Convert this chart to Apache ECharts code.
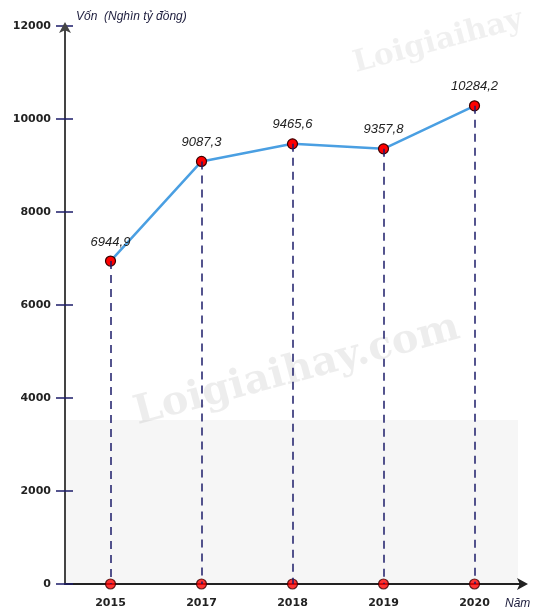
<!DOCTYPE html>
<html>
<head>
<meta charset="utf-8">
<script src="https://cdn.jsdelivr.net/npm/echarts@6/dist/echarts.min.js"></script>
<style>
  html, body { margin: 0; padding: 0; background: #fff; }
  #chart { width: 534px; height: 611px; }
</style>
</head>
<body>
<div id="chart"></div>
<script>
  // du lieu doc tu hinh
  var years = ['2015', '2017', '2018', '2019', '2020'];
  var capital = [6944.9, 9087.3, 9465.6, 9357.8, 10284.2];
  var baseline = [0, 0, 0, 0, 0];

  var navy = '#1c1c6a';
  var myChart = echarts.init(document.getElementById('chart'));

  var drops = years.map(function (y, i) {
    return [{ xAxis: i, yAxis: capital[i] }, { xAxis: i, yAxis: 0 }];
  });

  var opt = {
    animation: false,
    grid: { left: 65, right: 14, top: 26, bottom: 27 },
    graphic: [
      {
        type: 'rect', z: 0,
        shape: { x: 66, y: 420, width: 452, height: 163 },
        style: { fill: '#f6f6f6' }
      },
      {
        type: 'text', z: 0, x: 130, y: 395, rotation: 15 * Math.PI / 180,
        style: { text: 'Loigiaihay.com', fill: 'rgba(0,0,0,0.07)', font: 'bold 40px "DejaVu Serif"' }
      },
      {
        type: 'text', z: 0, x: 350, y: 50, rotation: 15 * Math.PI / 180,
        style: { text: 'Loigiaihay', fill: 'rgba(0,0,0,0.06)', font: 'bold 30px "DejaVu Serif"' }
      },
      {
        type: 'text', x: 76, y: 11,
        style: { text: 'Vốn  (Nghìn tỷ đồng)', fill: '#1c1c3c', font: 'italic 12px "Liberation Sans"' }
      },
      {
        type: 'text', x: 505, y: 598,
        style: { text: 'Năm', fill: '#1c1c3c', font: 'italic 12px "Liberation Sans"' }
      }
    ],
    xAxis: {
      type: 'category',
      data: years,
      boundaryGap: true,
      axisLine: {
        lineStyle: { color: '#222', width: 2 },
        symbol: ['none', 'arrow'],
        symbolSize: [9, 11],
        symbolOffset: [0, 8]
      },
      axisTick: { show: false },
      axisLabel: { color: '#222', fontWeight: 'bold', fontSize: 11, margin: 14, fontFamily: 'DejaVu Sans' }
    },
    yAxis: [
      {
        type: 'value',
        min: 0, max: 12000, interval: 2000,
        splitLine: { show: false },
        axisLine: {
          show: true,
          lineStyle: { color: '#444', width: 2 },
          symbol: ['none', 'arrow'],
          symbolSize: [9, 11],
          symbolOffset: [0, 4]
        },
        axisTick: { show: true, length: 9, lineStyle: { color: navy, width: 1.5 } },
        axisLabel: {
          color: '#222', fontWeight: 'bold', fontSize: 11, margin: 14, fontFamily: 'DejaVu Sans',
          formatter: function (v) { return String(v); }
        }
      },
      {
        type: 'value',
        min: 0, max: 12000, interval: 2000,
        position: 'left',
        splitLine: { show: false },
        axisLine: { show: false },
        axisTick: { show: true, inside: true, length: 8, lineStyle: { color: navy, width: 1.5 } },
        axisLabel: { show: false }
      }
    ],
    series: [
      {
        type: 'line',
        data: capital,
        z: 3,
        lineStyle: { color: '#4a9fe2', width: 2.5 },
        symbol: 'circle',
        symbolSize: 10,
        itemStyle: { color: '#ff0000', borderColor: '#3a0000', borderWidth: 1.2 },
        label: {
          show: true,
          position: 'top',
          distance: 7,
          color: '#222',
          fontStyle: 'italic',
          fontSize: 13,
          fontFamily: 'Liberation Sans',
          formatter: function (p) { return String(p.value).replace('.', ','); }
        },
        markLine: {
          silent: true,
          symbol: 'none',
          label: { show: false },
          lineStyle: { color: navy, type: [8, 6], width: 1.5 },
          data: drops
        }
      },
      {
        type: 'scatter',
        data: baseline,
        z: 4,
        symbol: 'circle',
        symbolSize: 10,
        itemStyle: { color: '#ff0000', borderColor: '#3a0000', borderWidth: 1.2 }
      }
    ]
  };

  myChart.setOption(opt);
  window.addEventListener('resize', function () { myChart.resize(); });
</script>
</body>
</html>
